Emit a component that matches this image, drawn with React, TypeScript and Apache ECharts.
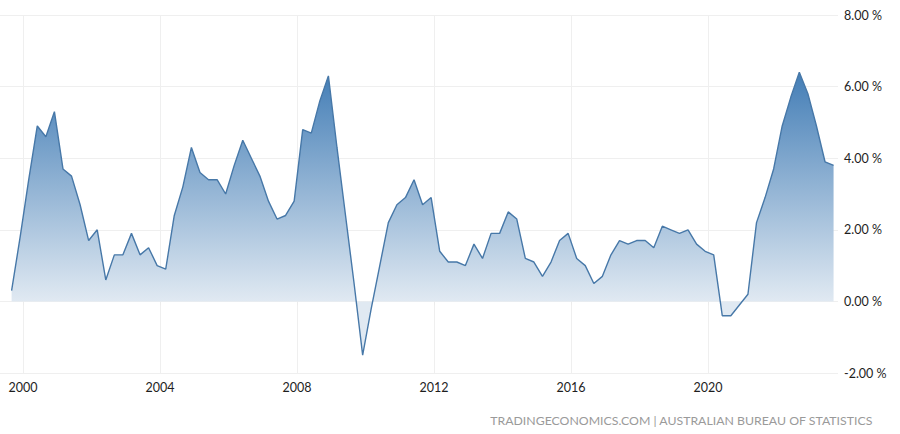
import React, { useEffect, useRef } from 'react';
import * as echarts from 'echarts';

// quarterly readings, 1999 Q3 .. 2023 Q3
const firstYear = 1999;
const firstQuarter = 3;

const values = [
  0.3, 1.8, 3.4, 4.9, 4.6, 5.3, 3.7, 3.5, 2.7, 1.7,
  2.0, 0.6, 1.3, 1.3, 1.9, 1.3, 1.5, 1.0, 0.9, 2.4,
  3.2, 4.3, 3.6, 3.4, 3.4, 3.0, 3.8, 4.5, 4.0, 3.5,
  2.8, 2.3, 2.4, 2.8, 4.8, 4.7, 5.6, 6.3, 4.3, 2.4,
  0.5, -1.5, -0.2, 1.0, 2.2, 2.7, 2.9, 3.4, 2.7, 2.9,
  1.4, 1.1, 1.1, 1.0, 1.6, 1.2, 1.9, 1.9, 2.5, 2.3,
  1.2, 1.1, 0.7, 1.1, 1.7, 1.9, 1.2, 1.0, 0.5, 0.7,
  1.3, 1.7, 1.6, 1.7, 1.7, 1.5, 2.1, 2.0, 1.9, 2.0,
  1.6, 1.4, 1.3, -0.4, -0.4, -0.1, 0.2, 2.2, 2.9, 3.7,
  4.9, 5.7, 6.4, 5.8, 4.9, 3.9, 3.8,
];

const yearLabels = [2000, 2004, 2008, 2012, 2016, 2020];
const yTicks = [-2, 0, 2, 4, 6, 8];
const sourceText = 'TRADINGECONOMICS.COM | AUSTRALIAN BUREAU OF STATISTICS';

// position of each quarter on a decimal-year scale (last month of the quarter)
const points = values.map((v, i) => {
  const q = firstQuarter - 1 + i;
  const year = firstYear + Math.floor(q / 4);
  const month = (q % 4) * 3 + 2;
  return [year + month / 12, v];
});

const FONT = 'Lato, "DejaVu Sans", sans-serif';

export default function App() {
  const elRef = useRef<HTMLDivElement>(null);

  useEffect(() => {
    if (!elRef.current) return;
    const chart = echarts.init(elRef.current, undefined, { renderer: 'svg' });

    chart.setOption({
      animation: false,
      grid: { left: 0, right: 62, top: 15, bottom: 61 },
      xAxis: {
        type: 'value',
        min: 1999.328,
        max: 2023.796,
        axisLine: { show: false },
        axisTick: {
          show: true,
          length: 4,
          customValues: yearLabels,
          lineStyle: { color: '#ececec' },
        },
        axisLabel: {
          customValues: yearLabels,
          formatter: (v: number) => String(Math.round(v)),
          color: '#1e1e1e',
          fontSize: 12.5,
          fontFamily: FONT,
          margin: 8,
        },
        splitLine: { show: true, lineStyle: { color: '#efefef', width: 1 } },
      },
      yAxis: {
        type: 'value',
        position: 'right',
        min: yTicks[0],
        max: yTicks[yTicks.length - 1],
        interval: 2,
        axisLine: { show: false },
        axisTick: { show: false },
        axisLabel: {
          formatter: (v: number) => `${v.toFixed(2)} %`,
          color: '#1e1e1e',
          fontSize: 12.5,
          fontFamily: FONT,
          margin: 6,
        },
        splitLine: { lineStyle: { color: '#efefef', width: 1 } },
      },
      series: [
        {
          type: 'line',
          data: points,
          symbol: 'none',
          lineStyle: { color: '#4778a8', width: 1.4 },
          areaStyle: {
            origin: 0,
            opacity: 1,
            color: new echarts.graphic.LinearGradient(
              0, 65, 0, 301,
              [
                { offset: 0, color: 'rgb(62,122,180)' },
                { offset: 1, color: 'rgb(224,233,242)' },
              ],
              true,
            ),
          },
        },
      ],
      graphic: [
        {
          type: 'text',
          right: 27,
          top: 414,
          style: {
            text: sourceText,
            fill: '#9a9a9a',
            fontSize: 12.3,
            fontFamily: FONT,
          },
        },
      ],
    });

    return () => chart.dispose();
  }, []);

  return (
    <div
      ref={elRef}
      style={{ position: 'absolute', left: 0, top: 0, width: 900, height: 434 }}
    />
  );
}
